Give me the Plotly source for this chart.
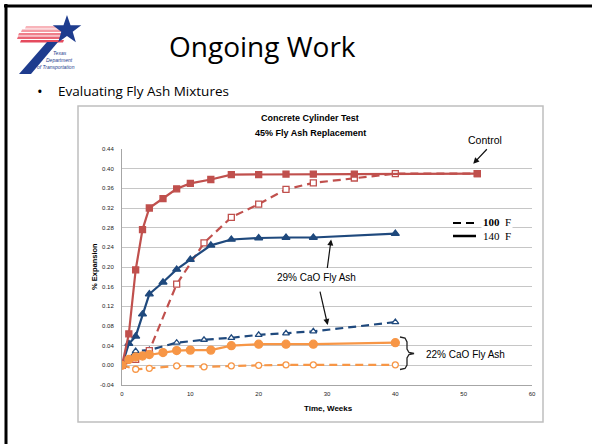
import math
import plotly.graph_objects as go

# ---------------- data ----------------
weeks_ctrl_140 = [0, 1, 2, 3, 4, 6, 8, 10, 13, 16, 20, 24, 28, 34, 52]
ctrl_140 = [0.0, 0.064, 0.194, 0.276, 0.320, 0.339, 0.359, 0.370, 0.378, 0.388, 0.388, 0.389, 0.389, 0.389, 0.390]

weeks_ctrl_100 = [0, 2, 4, 8, 12, 16, 20, 24, 28, 34, 40, 52]
ctrl_100 = [0.0, 0.012, 0.030, 0.165, 0.249, 0.301, 0.328, 0.358, 0.371, 0.381, 0.390, 0.390]

weeks_29_140 = [0, 1, 2, 3, 4, 6, 8, 10, 13, 16, 20, 24, 28, 40]
ash29_140 = [0.0, 0.044, 0.059, 0.104, 0.145, 0.169, 0.195, 0.215, 0.244, 0.256, 0.259, 0.260, 0.260, 0.268]

weeks_29_100 = [0, 2, 4, 8, 12, 16, 20, 24, 28, 40]
ash29_100 = [0.0, 0.029, 0.031, 0.046, 0.052, 0.056, 0.062, 0.065, 0.069, 0.088]

weeks_22_140 = [0, 1, 2, 3, 4, 6, 8, 10, 13, 16, 20, 24, 28, 40]
ash22_140 = [0.0, 0.012, 0.017, 0.019, 0.022, 0.026, 0.030, 0.031, 0.031, 0.040, 0.043, 0.043, 0.043, 0.046]

weeks_22_100 = [0, 2, 4, 8, 12, 16, 20, 24, 28, 40]
ash22_100 = [0.0, -0.008, -0.006, -0.001, -0.003, -0.001, 0.0, 0.001, 0.001, 0.001]

y_ticks = [-0.04, 0.0, 0.04, 0.08, 0.12, 0.16, 0.20, 0.24, 0.28, 0.32, 0.36, 0.40, 0.44]
x_ticks = [0, 10, 20, 30, 40, 50, 60]

RED = "#C0504D"
NAVY = "#1F497D"
ORANGE = "#F79646"

# plot-area pixel geometry
L, R, T, B = 122, 532, 149, 385
W, H = 592, 444


def px(x):
    return (x - L) / (R - L)


def py(y):
    return (B - y) / (B - T)


def path(points, close=False):
    s = "M " + " L ".join(f"{px(a):.5f},{py(b):.5f}" for a, b in points)
    return s + (" Z" if close else "")


fig = go.Figure()

DASH = "8px,5px"


def add(xs, ys, color, dash, symbol, size, filled):
    fig.add_trace(go.Scatter(
        x=xs, y=ys, mode="lines+markers",
        line=dict(color=color, width=2.2, dash=dash),
        marker=dict(symbol=symbol, size=size,
                    color=color if filled else "white",
                    line=dict(color=color, width=1.3)),
        showlegend=False, hoverinfo="skip"))


add(weeks_22_100, ash22_100, ORANGE, DASH, "circle", 6, False)
add(weeks_29_100, ash29_100, NAVY, DASH, "triangle-up", 6, False)
add(weeks_ctrl_100, ctrl_100, RED, DASH, "square", 6, False)
add(weeks_29_140, ash29_140, NAVY, "solid", "triangle-up", 7, True)
add(weeks_ctrl_140, ctrl_140, RED, "solid", "square", 6, True)
add(weeks_22_140, ash22_140, ORANGE, "solid", "circle", 8, True)

tickfont = dict(family="Liberation Sans", size=6, color="#222222")
fig.update_xaxes(range=[0, 60], tickvals=x_ticks, ticktext=[str(v) for v in x_ticks],
                 showgrid=False, zeroline=False, showline=True, linecolor="#A6A6A6",
                 linewidth=1, ticks="", tickfont=tickfont, ticklabelstandoff=3)
fig.update_yaxes(range=[-0.04, 0.44], tickvals=y_ticks,
                 ticktext=[f"{v:.2f}" for v in y_ticks],
                 showgrid=True, gridcolor="#C6C6C6", gridwidth=1, zeroline=False,
                 showline=True, linecolor="#A6A6A6", linewidth=1, ticks="",
                 tickfont=tickfont, ticklabelstandoff=6)

shapes = []
# slide border (left & top)
shapes.append(dict(type="line", xref="paper", yref="paper", x0=px(6), x1=px(6), y0=py(4), y1=py(446),
                   line=dict(color="black", width=3)))
shapes.append(dict(type="line", xref="paper", yref="paper", x0=px(4), x1=px(600), y0=py(6), y1=py(6),
                   line=dict(color="black", width=3)))
# chart frame
shapes.append(dict(type="rect", xref="paper", yref="paper", x0=px(78), x1=px(543), y0=py(106), y1=py(422),
                   line=dict(color="#BFBFBF", width=1.5), layer="below"))

# logo: red stripes
stripe_cols = ["#F8B4BA", "#F49AA3", "#EF7E8A", "#EA6474", "#E54B5E"]
for i, (yy, x0) in enumerate([(26, 26), (29.5, 22), (33, 19), (36.5, 18), (40, 21)]):
    shapes.append(dict(type="path", xref="paper", yref="paper",
                       path=path([(x0, yy), (64, yy), (63, yy + 2.4), (x0 - 1, yy + 2.4)], close=True),
                       fillcolor=stripe_cols[i], line=dict(width=0)))
# logo: blue stem
shapes.append(dict(type="path", xref="paper", yref="paper",
                   path=path([(47, 42), (58, 42), (31, 74), (19, 74)], close=True),
                   fillcolor="#1E3C8E", line=dict(width=0)))
# logo: star
cx, cy, r1, r2 = 67, 30, 15, 6.0
pts = []
for k in range(10):
    ang = -math.pi / 2 + k * math.pi / 5
    rr = r1 if k % 2 == 0 else r2
    pts.append((cx + rr * math.cos(ang), cy + rr * math.sin(ang)))
shapes.append(dict(type="path", xref="paper", yref="paper", path=path(pts, close=True),
                   fillcolor="#1E3C8E", line=dict(width=0)))

# legend lines
shapes.append(dict(type="line", xref="paper", yref="paper", x0=px(453), x1=px(476), y0=py(223), y1=py(223),
                   line=dict(color="black", width=2.2, dash="8px,5px")))
shapes.append(dict(type="line", xref="paper", yref="paper", x0=px(453), x1=px(476), y0=py(236), y1=py(236),
                   line=dict(color="black", width=2.5)))

# curly brace
bx = [(400, 337), (405, 338), (407, 342), (407, 349), (409, 352.5), (414, 353.5),
      (409, 354.5), (407, 358), (407, 365), (405, 368.5), (400, 369.5)]
shapes.append(dict(type="path", xref="paper", yref="paper", path=path(bx),
                   line=dict(color="#222222", width=1.3)))

ann = []


def text(x, y, s, size, family="Liberation Sans", color="black", **kw):
    d = dict(xref="paper", yref="paper", x=px(x), y=py(y), text=s, showarrow=False,
             font=dict(family=family, size=size, color=color), xanchor="center", yanchor="middle")
    d.update(kw)
    ann.append(d)


text(262, 46, "Ongoing Work", 28, family="Open Sans")
text(40, 91, "•", 15, family="Open Sans", xanchor="center")
text(56, 91, "Evaluating Fly Ash Mixtures", 13.5, family="Open Sans", xanchor="left")
# logo text
text(60, 53, "<i>Texas</i>", 5, color="#1E3C8E", xanchor="center")
text(59, 60, "<i>Department</i>", 5, color="#1E3C8E", xanchor="center")
text(56, 67, "<i>of Transportation</i>", 5, color="#1E3C8E", xanchor="center")

text(310, 118, "<b>Concrete Cylinder Test</b>", 9)
text(310, 133, "<b>45% Fly Ash Replacement</b>", 9)
text(94, 267, "<b>% Expansion</b>", 7.5, textangle=-90)
text(328, 408, "<b>Time, Weeks</b>", 8)
text(485, 140, "Control", 10.5)
text(316, 277, "29% CaO Fly Ash", 10)
text(465, 354, "22% CaO Fly Ash", 10)
text(497, 229, "<b>100</b>  F<br>140  F", 11, family="Liberation Serif", bgcolor="white",
     borderpad=1)

# arrows (tips on data coordinates)
arrow = dict(xref="x", yref="y", showarrow=True, arrowhead=2, arrowsize=1, arrowwidth=1.2,
             arrowcolor="#111111", text="")
ann.append(dict(arrow, x=51.4, y=0.410, ax=15, ay=-16))
ann.append(dict(arrow, x=30.6, y=0.256, ax=-4, ay=30))
ann.append(dict(arrow, x=30.1, y=0.082, ax=-8, ay=-35))

fig.update_layout(width=W, height=H, margin=dict(l=L, r=W - R, t=T, b=H - B),
                  paper_bgcolor="white", plot_bgcolor="white",
                  shapes=shapes, annotations=ann, showlegend=False)

fig.write_html("out.html", config={"displayModeBar": False, "staticPlot": True},
               post_script="document.body.style.margin='0';document.body.style.overflow='hidden';")
